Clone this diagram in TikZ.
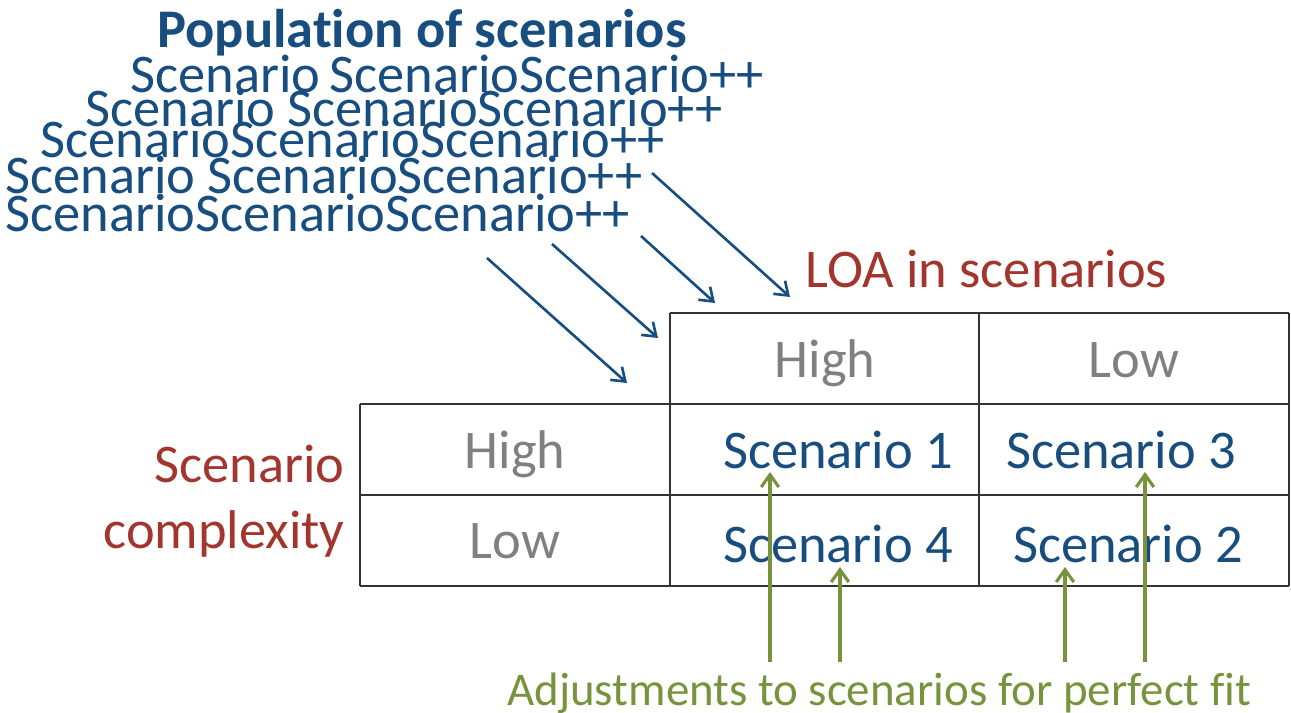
\documentclass[tikz,border=0pt]{standalone}
\usepackage{fontspec}
\setmainfont{Carlito}[Ligatures=NoCommon]
\usetikzlibrary{arrows.meta}
\definecolor{popblue}{RGB}{24,77,128}
\definecolor{loared}{RGB}{162,54,46}
\definecolor{cellgray}{RGB}{128,128,128}
\definecolor{fitgreen}{RGB}{119,147,60}
\begin{document}
\begin{tikzpicture}[x=0.02cm,y=-0.02cm]

    \tikzset{
      txt/.style={
        inner sep=0pt,
        anchor=base west,
        font=\fontsize{31}{31}\selectfont,
      },
      pop/.style={txt,text=popblue},
      loa/.style={txt,text=loared},
      cell/.style={txt,anchor=base,text=cellgray},
      scen/.style={txt,anchor=base,text=popblue},
      grid/.style={draw=black!80,line width=1.2pt},
      feed/.style={draw=popblue,line width=1.5pt,-{Straight Barb[length=7pt,width=10pt]}},
      fit/.style={draw=fitgreen,line width=1.8pt,-{Straight Barb[length=7pt,width=10pt]}},
    }
    \useasboundingbox (0,0) rectangle (1291,713);
    % population of scenarios
    \node[pop,font=\fontsize{31}{31}\selectfont\bfseries] (title) at (157,48) {Population of scenarios};
    \node[pop] (row1) at (130,92) {Scenario\,ScenarioScenario++};
    \node[pop] (row2) at (85,127) {Scenario ScenarioScenario++};
    \node[pop] (row3) at (40,157) {ScenarioScenarioScenario++};
    \node[pop] (row4) at (5,193) {Scenario ScenarioScenario++};
    \node[pop] (row5) at (5,231) {ScenarioScenarioScenario++};
    % table
    \draw[grid] (670,313) -- (1289,313);
    \draw[grid] (360,404) -- (1289,404);
    \draw[grid] (360,495) -- (1289,495);
    \draw[grid] (360,586) -- (1289,586);
    \draw[grid] (360,404) -- (360,586);
    \draw[grid] (670,313) -- (670,586);
    \draw[grid] (979,313) -- (979,586);
    \draw[grid] (1289,313) -- (1289,586);
    \node[loa] (loa) at (805,287) {LOA in scenarios};
    \node[loa,anchor=base east] (cplx1) at (345,482) {Scenario};
    \node[loa,anchor=base east] (cplx2) at (345,548) {complexity};
    \node[cell] (hihead) at (825,377) {High};
    \node[cell] (lohead) at (1134,377) {Low};
    \node[cell] (hirow) at (515,468) {High};
    \node[cell] (lorow) at (515,558) {Low};
    \node[scen] (s1) at (838,468) {Scenario 1};
    \node[scen] (s3) at (1121,468) {Scenario 3};
    \node[scen] (s4) at (838,562) {Scenario 4};
    \node[scen] (s2) at (1128,562) {Scenario 2};
    \node[txt,text=fitgreen,font=\fontsize{26.7}{27}\selectfont] (adjust) at (507,705) {Adjustments to scenarios for perfect fit};
    % arrows
    \coordinate (f1a) at (487,258); \coordinate (f1b) at (627,383);
    \coordinate (f2a) at (552,244); \coordinate (f2b) at (658,338);
    \coordinate (f3a) at (641,236); \coordinate (f3b) at (715,303);
    \coordinate (f4a) at (652,173); \coordinate (f4b) at (790,297);
    \draw[feed] (f1a) -- (f1b);
    \draw[feed] (f2a) -- (f2b);
    \draw[feed] (f3a) -- (f3b);
    \draw[feed] (f4a) -- (f4b);
    \coordinate (g1a) at (770,662); \coordinate (g1b) at (770,472);
    \coordinate (g2a) at (840,662); \coordinate (g2b) at (840,567);
    \coordinate (g3a) at (1065,662); \coordinate (g3b) at (1065,567);
    \coordinate (g4a) at (1145,662); \coordinate (g4b) at (1145,472);
    \draw[fit] (g1a) -- (g1b);
    \draw[fit] (g2a) -- (g2b);
    \draw[fit] (g3a) -- (g3b);
    \draw[fit] (g4a) -- (g4b);

\end{tikzpicture}
\end{document}
